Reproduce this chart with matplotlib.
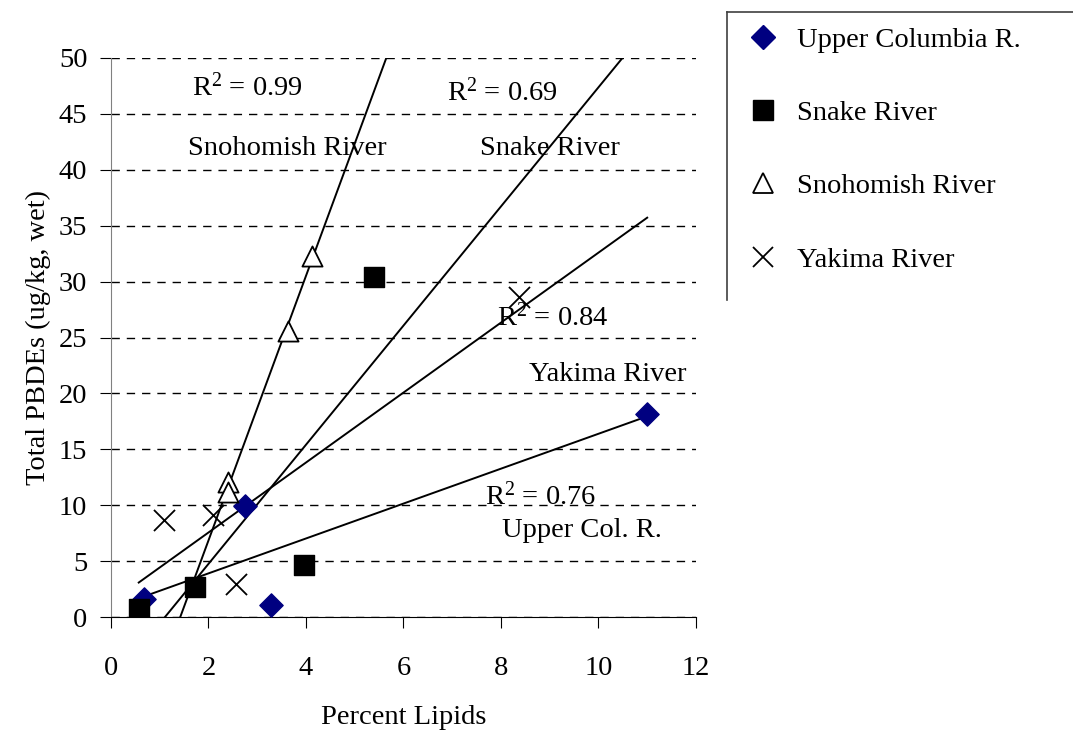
import numpy as np
import matplotlib
matplotlib.use("Agg")
import matplotlib.pyplot as plt
from matplotlib.lines import Line2D

plt.rcParams['font.family'] = ['Liberation Serif', 'DejaVu Serif']
plt.rcParams['mathtext.default'] = 'regular'

# data
upper_col_x = [0.68, 2.75, 3.28, 11.0]
upper_col_y = [1.6, 9.9, 1.07, 18.2]
snake_x = [0.57, 1.72, 3.96, 5.4]
snake_y = [0.7, 2.7, 4.65, 30.4]
snoh_x = [2.4, 2.4, 3.63, 4.12]
snoh_y = [12.1, 11.2, 25.6, 32.3]
yak_x = [1.09, 2.09, 2.56, 8.37]
yak_y = [8.7, 9.1, 2.95, 28.6]

series = ['Upper Columbia R.', 'Snake River', 'Snohomish River', 'Yakima River']
r2_labels = ['0.76', '0.69', '0.99', '0.84']
short_names = ['Upper Col. R.', 'Snake River', 'Snohomish River', 'Yakima River']

fig = plt.figure(figsize=(10.73, 7.35), dpi=100)
ax = fig.add_axes([0.1034, 0.1605, 0.5452, 0.7606])

all_x = upper_col_x + snake_x + snoh_x + yak_x
xs = np.array([min(all_x), max(all_x)])

datasets = [(upper_col_x, upper_col_y), (snake_x, snake_y), (snoh_x, snoh_y), (yak_x, yak_y)]
for x, y in datasets:
    m, b = np.polyfit(x, y, 1)
    ax.plot(xs, m * xs + b, color='black', lw=1.4, zorder=2)

ax.scatter(upper_col_x, upper_col_y, marker='D', s=140, color='#000080', zorder=3)
ax.scatter(snake_x, snake_y, marker='s', s=220, color='black', zorder=3)
ax.scatter(snoh_x, snoh_y, marker='^', s=210, facecolor='white', edgecolor='black', lw=1.3, zorder=3)
ax.scatter(yak_x, yak_y, marker='x', s=230, color='black', lw=1.3, zorder=3)

# labels on the trend lines
fs = 20.5
ax.text(2.79, 47.4, 'R$^{2}$ = ' + r2_labels[2], fontsize=fs, ha='center', va='center')
ax.text(3.61, 41.9, short_names[2], fontsize=fs, ha='center', va='center')
ax.text(8.04, 46.9, 'R$^{2}$ = ' + r2_labels[1], fontsize=fs, ha='center', va='center')
ax.text(9.0, 41.9, short_names[1], fontsize=fs, ha='center', va='center')
ax.text(9.07, 26.8, 'R$^{2}$ = ' + r2_labels[3], fontsize=fs, ha='center', va='center')
ax.text(10.2, 21.7, short_names[3], fontsize=fs, ha='center', va='center')
ax.text(8.82, 10.8, 'R$^{2}$ = ' + r2_labels[0], fontsize=fs, ha='center', va='center')
ax.text(9.66, 7.7, short_names[0], fontsize=fs, ha='center', va='center')

ax.set_xlim(0, 12)
ax.set_ylim(0, 50)
ax.set_xticks(range(0, 13, 2))
ax.set_yticks(range(0, 51, 5))
ax.yaxis.grid(True, linestyle=(0, (6, 5)), color='black', lw=1)
ax.set_axisbelow(True)
ax.spines['top'].set_visible(False)
ax.spines['right'].set_visible(False)
ax.spines['left'].set_color('#808080')
ax.tick_params(labelsize=fs, length=8, direction='out')
ax.tick_params(axis='x', pad=20)
ax.tick_params(axis='y', pad=9)
ax.set_xlabel('Percent Lipids', fontsize=fs, labelpad=17)
ax.set_ylabel('Total PBDEs (ug/kg, wet)', fontsize=fs, labelpad=6)

# legend
handles = [
    Line2D([], [], ls='none', marker='D', ms=12, color='#000080'),
    Line2D([], [], ls='none', marker='s', ms=14, color='black'),
    Line2D([], [], ls='none', marker='^', ms=14, mfc='white', mec='black', mew=1.3),
    Line2D([], [], ls='none', marker='x', ms=15, color='black', mew=1.3),
]
leg = fig.legend(handles, series, loc='upper left', bbox_to_anchor=(0.671, 0.998),
                 frameon=False, fontsize=fs, labelspacing=1.66, handletextpad=0.6,
                 handlelength=1.2)
fig.add_artist(Line2D([727 / 1073, 727 / 1073], [1 - 12 / 735, 1 - 300 / 735],
                      transform=fig.transFigure, color='#404040', lw=1.2))
fig.add_artist(Line2D([727 / 1073, 1.0], [1 - 12 / 735, 1 - 12 / 735],
                      transform=fig.transFigure, color='#404040', lw=1.2))

fig.savefig('out.png', dpi=100)
